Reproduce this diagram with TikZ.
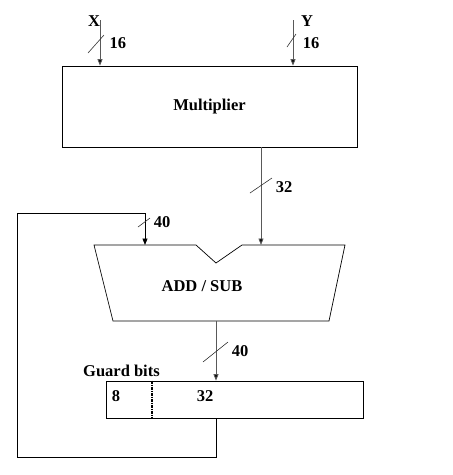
\documentclass[tikz,border=0pt]{standalone}
\usepackage{fontspec}
\setmainfont{Liberation Serif}
\usetikzlibrary{arrows.meta,positioning}

\begin{document}
\begin{tikzpicture}[x=1pt,y=-1pt,
    every node/.style={font=\bfseries\fontsize{16.5}{19}\selectfont},
    wire/.style={draw=black!65, line width=0.9pt, -{Triangle[width=5pt,length=6.5pt,fill=black]}},
    busmark/.style={draw=black!80, line width=0.6pt}]
    \useasboundingbox (0,0) rectangle (453,475);

    % blocks
    \node[draw, line width=0.7pt, minimum width=295, minimum height=81, inner sep=0] (mult) at (209.5,106.5) {Multiplier};
    \draw[line width=0.7pt] (94,245) coordinate (alu tl) -- (196,245) -- (216,263) coordinate (notch)
        -- (242,245) -- (345,245) coordinate (alu tr) -- (329,321) coordinate (alu br)
        -- (113,321) coordinate (alu bl) -- cycle;
    \node (alu) at (202,286) {ADD / SUB};
    \node[draw, line width=0.7pt, minimum width=257, minimum height=37, inner sep=0] (acc) at (234.5,399.5) {};
    \draw[dash pattern=on 3pt off 1pt on 1pt off 1pt, line width=1.3pt] (acc.north -| 152,0) -- (acc.south -| 152,0);
    \node (g8) at (116,396) {8};
    \node (g32) at (205,396) {32};
    \node[above=0pt of acc.north west, anchor=south west, xshift=-26] (guard) {Guard bits};

    % inputs
    \coordinate (xin) at (100,20);
    \coordinate (yin) at (293,20);
    \node (xlab) at (94,21) {X};
    \node (ylab) at (307,21) {Y};
    \draw[wire] (xin) -- (mult.north -| xin);
    \draw[wire] (yin) -- (mult.north -| yin);
    \draw[busmark] (88,53) -- (104,35);
    \node (xw) at (118,43) {16};
    \draw[busmark] (287,47) -- (296,34);
    \node (yw) at (311,43) {16};

    % product to adder
    \coordinate (prod) at (261,147);
    \draw[wire] (prod) -- (261,245);
    \draw[busmark] (250,193) -- (272,178);
    \node (pw) at (284,187) {32};

    % adder to accumulator
    \coordinate (sum) at (216,321);
    \draw[wire] (sum) -- (acc.north -| sum);
    \draw[busmark] (203,362) -- (228,342);
    \node (sw) at (240,351) {40};

    % feedback
    \coordinate (fb) at (216,418);
    \draw[wire, draw=black] (fb) -- (216,457) -- (17,457) -- (17,213) -- (145,213) -- (145,245);
    \draw[busmark] (138,227) -- (150,218);
    \node (fw) at (162,222) {40};
\end{tikzpicture}
\end{document}
